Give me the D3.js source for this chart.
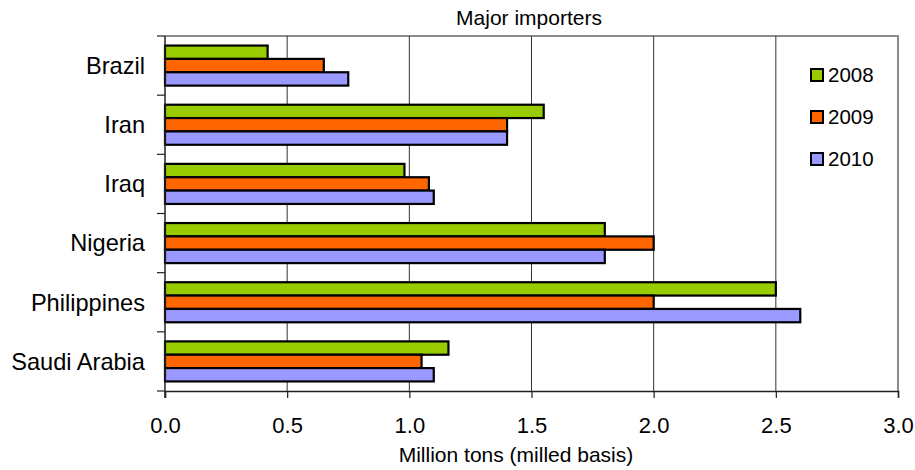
<!DOCTYPE html>
<html>
<head>
<meta charset="utf-8">
<script src="https://cdn.jsdelivr.net/npm/d3@7"></script>
<style>
  body { margin: 0; background: #fff; }
  svg { display: block; font-family: "Liberation Sans", Arial, sans-serif; }
</style>
</head>
<body>
<svg id="chart" width="915" height="470"></svg>
<script>
// Rice imports, million tons (milled basis)
const countries = ["Brazil", "Iran", "Iraq", "Nigeria", "Philippines", "Saudi Arabia"];
const years = ["2008", "2009", "2010"];
const values2008 = [0.42, 1.55, 0.98, 1.80, 2.50, 1.16];
const values2009 = [0.65, 1.40, 1.08, 2.00, 2.00, 1.05];
const values2010 = [0.75, 1.40, 1.10, 1.80, 2.60, 1.10];
const xTicks = [0, 0.5, 1.0, 1.5, 2.0, 2.5, 3.0];
const colors = ["#99CC00", "#FF6600", "#9999FF"];

const seriesValues = [values2008, values2009, values2010];

const svg = d3.select("#chart");
const margin = { left: 165, right: 17, top: 36, bottom: 79 };
const W = 915, H = 470;
const plotW = W - margin.left - margin.right;
const plotH = H - margin.top - margin.bottom;

const x = d3.scaleLinear().domain([0, 3]).range([margin.left, margin.left + plotW]);
const y = d3.scaleBand().domain(countries).range([margin.top, margin.top + plotH]);
const groupH = y.bandwidth() * 0.677;
const ySub = d3.scaleBand().domain(years).range([0, groupH]);

// plot frame (top and right edges)
svg.append("path")
  .attr("d", `M${x(0)},${margin.top}H${x(3)}V${margin.top + plotH}`)
  .attr("fill", "none").attr("stroke", "#8c8c8c").attr("stroke-width", 2);

// vertical gridlines
svg.append("g").selectAll("line")
  .data(xTicks.filter(t => t > 0 && t < 3))
  .join("line")
  .attr("x1", d => x(d)).attr("x2", d => x(d))
  .attr("y1", margin.top).attr("y2", margin.top + plotH)
  .attr("stroke", "#333").attr("stroke-width", 1);

// bars
const groups = svg.append("g").selectAll("g")
  .data(countries)
  .join("g")
  .attr("transform", d => `translate(0,${y(d) + (y.bandwidth() - groupH) / 2})`);

groups.selectAll("rect")
  .data((c, i) => years.map((yr, s) => ({ yr, s, v: seriesValues[s][i] })))
  .join("rect")
  .attr("x", x(0))
  .attr("y", d => ySub(d.yr))
  .attr("width", d => x(d.v) - x(0))
  .attr("height", ySub.bandwidth())
  .attr("fill", d => colors[d.s])
  .attr("stroke", "#000")
  .attr("stroke-width", 2.2);

// x axis
const xAxis = d3.axisBottom(x).tickValues(xTicks).tickFormat(d3.format(".1f")).tickSize(7).tickPadding(0);
const gx = svg.append("g")
  .attr("transform", `translate(0,${margin.top + plotH})`)
  .call(xAxis);
gx.select(".domain").attr("stroke", "#222").attr("stroke-width", 1.5);
gx.selectAll(".tick line").attr("stroke", "#222").attr("stroke-width", 1.2);
gx.selectAll(".tick text")
  .attr("y", 433 - (margin.top + plotH)).attr("dy", null)
  .attr("font-size", 22).attr("fill", "#000")
  .attr("font-family", "Liberation Sans, Arial, sans-serif");

// y axis: ticks at band boundaries, labels at band centres
const yBoundaries = countries.map(c => y(c)).concat([margin.top + plotH]);
svg.append("line")
  .attr("x1", x(0)).attr("x2", x(0))
  .attr("y1", margin.top).attr("y2", margin.top + plotH + 7)
  .attr("stroke", "#222").attr("stroke-width", 1.5);
svg.append("g").selectAll("line")
  .data(yBoundaries)
  .join("line")
  .attr("x1", x(0) - 8).attr("x2", x(0))
  .attr("y1", d => d).attr("y2", d => d)
  .attr("stroke", "#222").attr("stroke-width", 1.2);
svg.append("g").selectAll("text")
  .data(countries)
  .join("text")
  .attr("x", 145)
  .attr("y", d => y(d) + y.bandwidth() / 2)
  .attr("dy", "0.35em")
  .attr("text-anchor", "end")
  .attr("font-size", 23.6)
  .text(d => d);

// title
svg.append("text")
  .attr("x", 529)
  .attr("y", 25)
  .attr("text-anchor", "middle")
  .attr("font-size", 21)
  .text("Major importers");

// x axis title
svg.append("text")
  .attr("x", 516)
  .attr("y", 462)
  .attr("text-anchor", "middle")
  .attr("font-size", 21)
  .text("Million tons (milled basis)");

// legend
const legend = svg.append("g").selectAll("g")
  .data(years)
  .join("g")
  .attr("transform", (d, i) => `translate(811,${75 + i * 42})`);
legend.append("rect")
  .attr("x", 0).attr("y", -6).attr("width", 12).attr("height", 12)
  .attr("fill", (d, i) => colors[i]).attr("stroke", "#000").attr("stroke-width", 2);
legend.append("text")
  .attr("x", 17).attr("y", 0).attr("dy", "0.35em")
  .attr("font-size", 20.5)
  .text(d => d);
</script>
</body>
</html>
